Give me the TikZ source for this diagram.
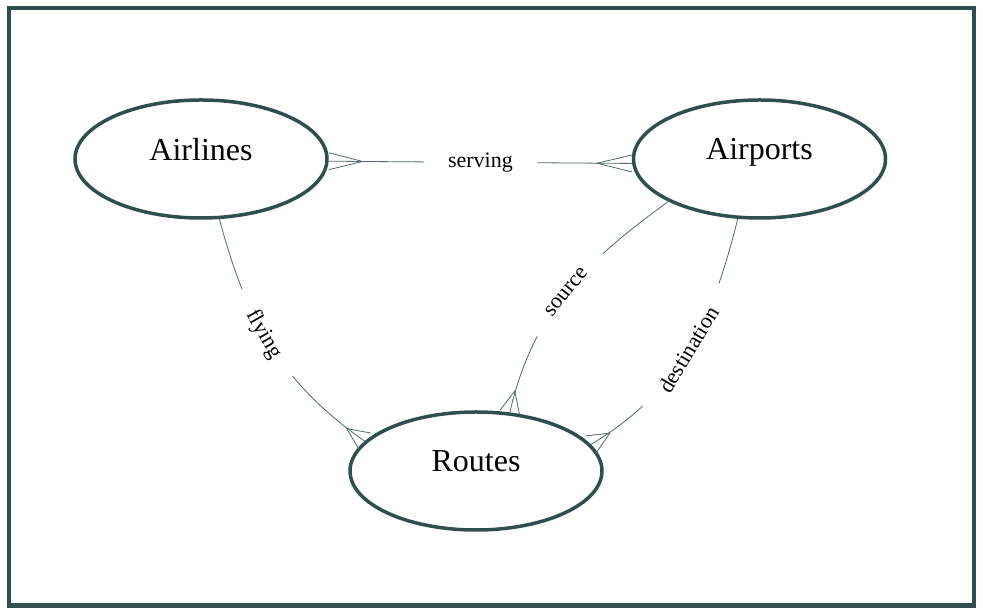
\documentclass[tikz,border=0pt]{standalone}
\usepackage{fontspec}
\setmainfont{Liberation Serif}
\usetikzlibrary{arrows.meta, shapes.geometric}

\definecolor{slate}{RGB}{47,79,79}

% «воронья лапка» на конце связи
\pgfdeclarearrow{
	name = Crow,
	parameters = {\the\pgfarrowlength,\the\pgfarrowwidth},
	setup code = {
		\pgfarrowssettipend{0pt}
		\pgfarrowssetlineend{0pt}
		\pgfarrowssetbackend{-\pgfarrowlength}
		\pgfarrowssetvisualbackend{-\pgfarrowlength}
		\pgfarrowshullpoint{0pt}{.5\pgfarrowwidth}
		\pgfarrowshullpoint{0pt}{-.5\pgfarrowwidth}
		\pgfarrowshullpoint{-\pgfarrowlength}{0pt}
	},
	drawing code = {
		\pgfpathmoveto{\pgfqpoint{0pt}{.5\pgfarrowwidth}}
		\pgfpathlineto{\pgfqpoint{-\pgfarrowlength}{0pt}}
		\pgfpathlineto{\pgfqpoint{0pt}{-.5\pgfarrowwidth}}
		\pgfusepathqstroke
	},
	defaults = {length = 22pt, width = 20pt}
}

\begin{document}
\begin{tikzpicture}[x=1pt, y=1pt,
	entity/.style={ellipse, draw=slate, line width=3.5pt, minimum width=252pt,
		minimum height=118pt, inner sep=0pt, text depth=20pt,
		font=\fontsize{32}{36}\selectfont},
	relation/.style={draw=slate!85, line width=0.8pt},
	rel label/.style={fill=white, inner xsep=24pt, inner ysep=3pt,
		font=\fontsize{22}{26}\selectfont}]
	% параметры
	\def\W{983} % ширина рисунка
	\def\H{615} % высота рисунка

	\useasboundingbox (0,0) rectangle (\W,\H);

	% внешняя рамка
	\draw[slate, line width=4.5pt] (9,9.5) rectangle (974,607);

	% сущности
	\node[entity] (airlines) at (201,456) {Airlines};
	\node[entity] (airports) at (759.5,456) {Airports};
	\node[entity] (routes) at (476,144) {Routes};

	% связи
	\draw[relation, {Crow[length=34pt,width=17pt]}-{Crow[length=35pt,width=17pt]}]
		(airlines.-1) -- node[rel label] {serving} (airports.182);
	\draw[relation, -{Crow}]
		(airlines.287) to[out=-75, in=145] node[rel label, sloped, pos=0.45] {flying} (routes.165);
	\draw[relation, -{Crow}]
		(airports.205) to[out=216, in=77] node[rel label, sloped] {source} (routes.60);
	\draw[relation, -{Crow}]
		(airports.250) to[out=-104, in=31] node[rel label, sloped] {destination} (routes.13);
\end{tikzpicture}
\end{document}
